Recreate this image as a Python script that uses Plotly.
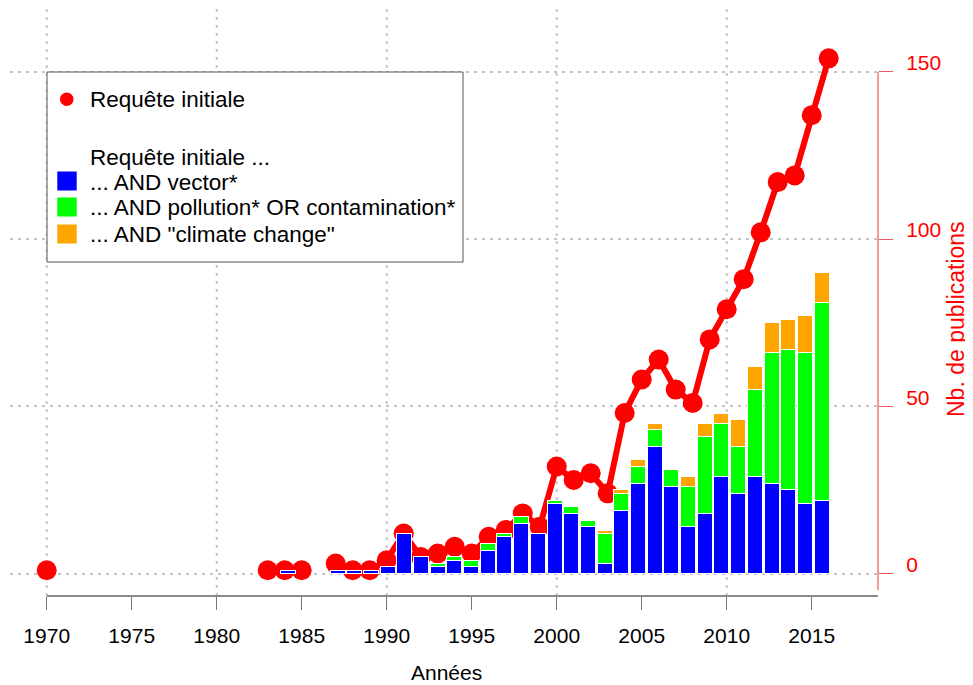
import plotly.graph_objects as go

# ---------------- data ----------------
years = list(range(1970, 2017))
initial_query = [1] + [None] * 12 + [1, 1, 1, None,
                 3, 1, 1, 4, 12, 5, 6, 8, 6, 11, 13, 18, 14,
                 32, 28, 30, 24, 48, 58, 64, 55, 51, 70, 79, 88,
                 102, 117, 119, 137, 154]

bar_years = [1984, 1987, 1988, 1989, 1990, 1991, 1992, 1993, 1994, 1995,
             1996, 1997, 1998, 1999, 2000, 2001, 2002, 2003, 2004, 2005,
             2006, 2007, 2008, 2009, 2010, 2011, 2012, 2013, 2014, 2015, 2016]
vector = [1, 1, 1, 1, 2, 12, 5, 2, 4, 2,
          7, 11, 15, 12, 21, 18, 14, 3, 19, 27,
          38, 26, 14, 18, 29, 24, 29, 27, 25, 21, 22]
pollution = [0, 0, 0, 0, 0, 0, 0, 1, 1, 2,
             2, 1, 2, 0, 1, 2, 2, 9, 5, 5,
             5, 5, 12, 23, 16, 14, 26, 39, 42, 45, 59]
climate = [0, 0, 0, 0, 0, 0, 0, 0, 0, 0,
           0, 0, 0, 0, 0, 0, 0, 1, 1, 2,
           2, 0, 3, 4, 3, 8, 7, 9, 9, 11, 9]

x_ticks = [1970, 1975, 1980, 1985, 1990, 1995, 2000, 2005, 2010, 2015]
grid_years = [1970, 1980, 1990, 2000, 2010]
y_ticks = [0, 50, 100, 150]

series_names = ["... AND vector*", "... AND pollution* OR contamination*",
                '... AND "climate change"']
series_colors = ["#0000ff", "#00ff00", "#ffa500"]
line_name = "Requête initiale"
legend_header = "Requête initiale ..."

# ---------------- layout constants ----------------
# The page body has an 8px margin, so the figure starts at (8, 8) of the window.
OFF = 8
W, H = 973 - OFF, 685 - OFF
PLOT_L, PLOT_R, PLOT_T, PLOT_B = 10, 878, 8, 596   # window pixels
ML, MR, MT, MB = PLOT_L - OFF, 973 - PLOT_R, PLOT_T - OFF, 685 - PLOT_B
PW, PH = PLOT_R - PLOT_L, PLOT_B - PLOT_T
FONT = "Liberation Sans, Arial, sans-serif"


def xp(px):
    return (px - PLOT_L) / PW


def yp(py):
    return 1 - (py - PLOT_T) / PH


def nz(vals):
    return [v if v else None for v in vals]


fig = go.Figure()

fig.add_trace(go.Scatter(
    x=years, y=initial_query, mode="lines+markers", name=line_name,
    line=dict(color="#ff0000", width=6), connectgaps=False,
    marker=dict(color="#ff0000", size=20), showlegend=False,
    xaxis="x", yaxis="y", cliponaxis=False))

for vals, name, col in zip([vector, pollution, climate], series_names, series_colors):
    fig.add_trace(go.Bar(
        x=bar_years, y=nz(vals), name=name, width=0.9,
        marker=dict(color=col, line=dict(color="white", width=1)),
        showlegend=False, xaxis="x2", yaxis="y"))

shapes = []
for gy in grid_years:
    shapes.append(dict(type="line", xref="x", yref="paper", x0=gy, x1=gy, y0=0, y1=1,
                       line=dict(color="#c4c4c4", width=2, dash="3px,5px"), layer="below"))
shapes.append(dict(type="line", xref="x", yref="paper", x0=x_ticks[0], x1=2018.9, y0=0, y1=0,
                   line=dict(color="#8a8a8a", width=2)))
shapes.append(dict(type="line", xref="paper", yref="y", x0=1, x1=1, y0=-5, y1=y_ticks[-1],
                   line=dict(color="#f05858", width=1.2)))
shapes.append(dict(type="rect", xref="paper", yref="paper",
                   x0=xp(47), x1=xp(463), y0=yp(262), y1=yp(72),
                   line=dict(color="#555555", width=1), fillcolor="white"))
shapes.append(dict(type="circle", xref="paper", yref="paper",
                   x0=xp(60), x1=xp(73.5), y0=yp(106), y1=yp(92.5),
                   line=dict(color="#ff0000", width=0), fillcolor="#ff0000"))
sq_centers = [181, 207, 234]
for cy, col in zip(sq_centers, series_colors):
    shapes.append(dict(type="rect", xref="paper", yref="paper",
                       x0=xp(57.3), x1=xp(76.7), y0=yp(cy + 9.5), y1=yp(cy - 9.5),
                       line=dict(color=col, width=0), fillcolor=col))

annotations = []
leg_rows = [(line_name, 99), (legend_header, 157)] + list(zip(series_names, [182, 208, 235]))
for txt, cy in leg_rows:
    annotations.append(dict(text=txt, xref="paper", yref="paper", x=xp(88), y=yp(cy),
                            xanchor="left", yanchor="middle", showarrow=False,
                            font=dict(family=FONT, size=22.5, color="#000000")))
annotations.append(dict(text="Années", xref="paper", yref="paper", x=xp(446), y=yp(672),
                        xanchor="center", yanchor="middle", showarrow=False,
                        font=dict(family=FONT, size=21, color="#000000")))
annotations.append(dict(text="Nb. de publications", xref="paper", yref="paper",
                        x=xp(956), y=yp(319), textangle=-90,
                        xanchor="center", yanchor="middle", showarrow=False,
                        font=dict(family=FONT, size=23, color="#ff0000")))

y_top = 573.6 / 3.346 - (PLOT_T / 3.346)
fig.update_layout(
    width=W, height=H, margin=dict(l=ML, r=MR, t=MT, b=MB, pad=0),
    paper_bgcolor="white", plot_bgcolor="white",
    barmode="stack", showlegend=False,
    font=dict(family=FONT, size=21, color="#000000"),
    xaxis=dict(range=[1967.841, 2018.90], tickvals=x_ticks, ticks="outside", ticklen=13,
               tickcolor="#777777", tickwidth=1, showgrid=False, zeroline=False,
               showline=False, ticklabelstandoff=8,
               tickfont=dict(family=FONT, size=21, color="#000000")),
    xaxis2=dict(range=[1967.373, 2019.38], overlaying="x", visible=False),
    yaxis=dict(range=[-6.69, y_top], side="right", anchor="x", tickvals=y_ticks,
               ticks="outside", ticklen=14, tickcolor="#f05858", tickwidth=1,
               showgrid=True, gridcolor="#c4c4c4", gridwidth=2, griddash="3px,5px",
               zeroline=False, showline=False, ticklabelshift=-9, ticklabelstandoff=9,
               tickfont=dict(family=FONT, size=21, color="#ff0000")),
    shapes=shapes, annotations=annotations,
)

fig.write_html("out.html")
